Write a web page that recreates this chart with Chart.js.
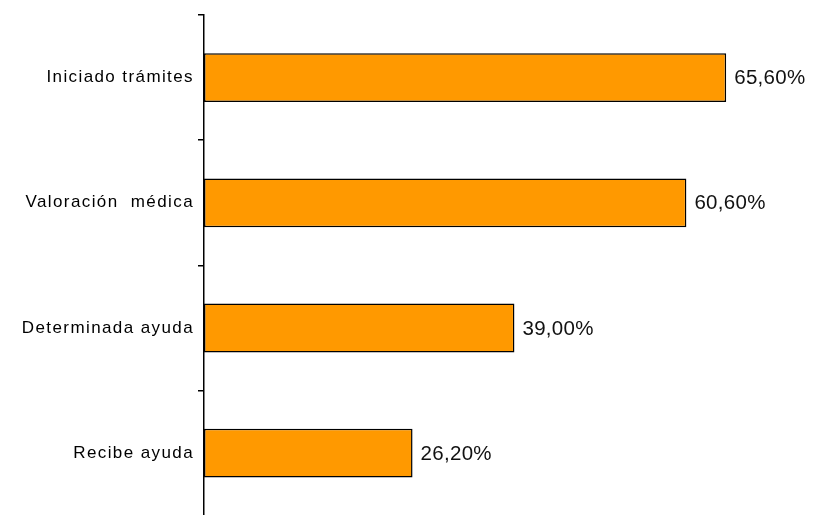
<!DOCTYPE html>
<html>
<head>
<meta charset="utf-8">
<script src="https://cdn.jsdelivr.net/npm/chart.js@4/dist/chart.umd.min.js"></script>
<style>
  html, body { margin: 0; padding: 0; background: #fff; overflow: hidden; }
  #wrap { width: 823px; height: 530px; }
</style>
</head>
<body>
<div id="wrap"><canvas id="chartTramites" width="823" height="530"></canvas></div>
<script>
// datos del gráfico
const categories = ['Iniciado trámites', 'Valoración  médica', 'Determinada ayuda', 'Recibe ayuda'];
const percentValues = [65.6, 60.6, 39.0, 26.2];
const xMax = 75;

// separación de letras de las etiquetas (como en el original)
const labelSpacing = {
    id: 'labelSpacing',
    beforeDraw(chart) {
        chart.ctx.letterSpacing = '1.4px';
    },
    afterDraw(chart) {
        chart.ctx.letterSpacing = '0px';
    }
};

// etiquetas de valor al final de cada barra
const valueLabels = {
    id: 'valueLabels',
    afterDatasetsDraw(chart) {
        const ctx = chart.ctx;
        const meta = chart.getDatasetMeta(0);
        ctx.save();
        ctx.letterSpacing = '0.3px';
        ctx.font = '20.5px "Liberation Sans", Arial, sans-serif';
        ctx.fillStyle = '#111';
        ctx.textAlign = 'left';
        ctx.textBaseline = 'middle';
        meta.data.forEach((bar, i) => {
            const txt = percentValues[i].toFixed(2).replace('.', ',') + '%';
            ctx.fillText(txt, bar.x + 8, bar.y + 1);
        });
        ctx.restore();
    }
};

const ctx = document.getElementById('chartTramites');
const myChart = new Chart(ctx, {
    type: 'bar',
    data: {
        labels: categories,
        datasets: [{
            data: percentValues,
            backgroundColor: '#FF9900',
            borderColor: '#000',
            borderWidth: 1.5,
            borderSkipped: false,
            barPercentage: 0.39,
            categoryPercentage: 1
        }]
    },
    options: {
        indexAxis: 'y',
        responsive: false,
        animation: false,
        devicePixelRatio: 1,
        layout: {
            padding: { top: 15, right: 22, bottom: 8, left: 0 }
        },
        plugins: {
            legend: { display: false },
            tooltip: { enabled: false }
        },
        scales: {
            x: {
                display: false,
                min: 0,
                max: xMax
            },
            y: {
                afterFit(scale) { scale.width = 204; },
                border: { display: true, color: '#000', width: 1.5 },
                grid: {
                    offset: true,
                    drawOnChartArea: false,
                    drawTicks: true,
                    tickLength: 6,
                    color: '#000',
                    lineWidth: 1.5
                },
                ticks: {
                    padding: 4,
                    color: '#000',
                    font: { family: '"Liberation Sans", Arial, sans-serif', size: 17 }
                }
            }
        }
    },
    plugins: [labelSpacing, valueLabels]
});
</script>
</body>
</html>
